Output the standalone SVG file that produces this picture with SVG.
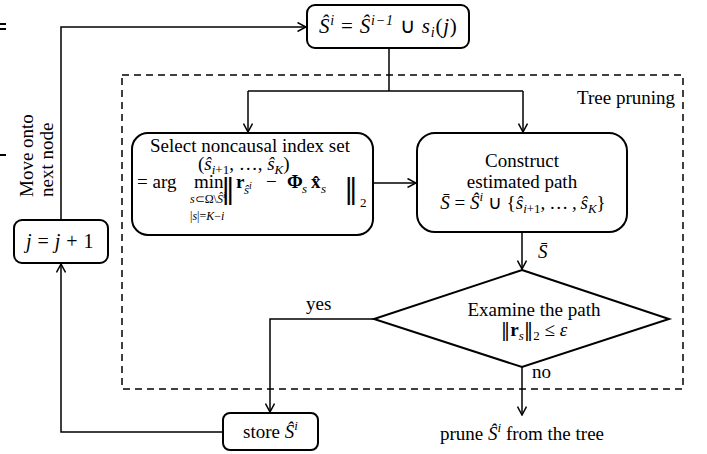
<svg xmlns="http://www.w3.org/2000/svg" width="707" height="454" viewBox="0 0 707 454">
<defs>
<marker id="arr" viewBox="0 0 10 10" refX="9.5" refY="5" markerWidth="10" markerHeight="10" markerUnits="userSpaceOnUse" orient="auto">
<path d="M1,0.5 L9.5,5 L1,9.5" fill="none" stroke="#000" stroke-width="1.5"/>
</marker>
<style>
.node{fill:#fff;stroke:#000;stroke-width:2}
.ln{fill:none;stroke:#000;stroke-width:1.5}
.dash{fill:none;stroke:#000;stroke-width:1.5;stroke-dasharray:7,5}
text{font-family:"Liberation Serif","Times New Roman",serif;font-size:19px;fill:#000}
.m{font-style:italic}
.b{font-weight:bold;font-style:normal}
.s{font-size:13px}
.t{font-size:12px}
.c{text-anchor:middle}
.nb{font-family:"DejaVu Serif","DejaVu Sans",serif;font-style:normal;font-weight:normal}
</style>
</defs>
<rect x="0" y="23" width="6" height="2" fill="#000"/>
<rect x="0" y="28" width="6" height="2" fill="#000"/>
<rect x="0" y="154" width="6" height="2" fill="#000"/>
<rect id="tree-pruning" class="dash" x="122" y="75" width="561" height="314"/>
<text x="675" y="104" text-anchor="end">Tree pruning</text>
<g id="connectors">
<path class="ln" d="M61,220 L61,27 L306,27" marker-end="url(#arr)"/>
<path class="ln" d="M389,48 L389,91"/>
<path class="ln" d="M248,91 L523,91"/>
<path class="ln" d="M248,91 L248,132" marker-end="url(#arr)"/>
<path class="ln" d="M523,91 L523,132" marker-end="url(#arr)"/>
<path class="ln" d="M373,183 L416,183" marker-end="url(#arr)"/>
<path class="ln" d="M522,232 L522,269" marker-end="url(#arr)"/>
<path class="ln" d="M374,319 L270,319 L270,412" marker-end="url(#arr)"/>
<path class="ln" d="M522,367 L522,415" marker-end="url(#arr)"/>
<path class="ln" d="M222,432 L61,432 L61,264" marker-end="url(#arr)"/>
<text x="538" y="258" class="m">S&#x0304;</text>
<text x="306" y="310">yes</text>
<text x="532" y="378">no</text>
<text transform="translate(33,197) rotate(-90)">Move onto</text>
<text transform="translate(53,197) rotate(-90)">next node</text>
</g>
<g id="update">
<rect class="node" x="307" y="5" width="162" height="43" rx="8"/>
<text x="319" y="33" class="m" style="font-size:21px;letter-spacing:0.8px">Ŝ<tspan style="font-size:14px" dy="-8">i</tspan><tspan dy="8" style="font-style:normal"> = </tspan>Ŝ<tspan style="font-size:14px" dy="-8">i−1</tspan><tspan dy="8" style="font-style:normal"> ∪ </tspan>s<tspan style="font-size:14px" dy="4">i</tspan><tspan dy="-4" style="font-style:normal">(</tspan>j<tspan style="font-style:normal">)</tspan></text>
</g>
<g id="increment">
<rect class="node" x="14" y="220" width="94" height="43" rx="8"/>
<text x="60" y="248" class="m c" style="font-size:20px;letter-spacing:0.5px">j<tspan style="font-style:normal"> = </tspan>j<tspan style="font-style:normal"> + 1</tspan></text>
</g>
<g id="select">
<rect class="node" x="132" y="133" width="241" height="102" rx="16"/>
<text x="250" y="152" class="c">Select noncausal index set</text>
<text><tspan x="198" y="170">(</tspan><tspan class="m">ŝ</tspan><tspan class="m s" dy="4">i</tspan><tspan class="s">+1</tspan><tspan dy="-4">, …, </tspan><tspan class="m">ŝ</tspan><tspan class="m s" dy="4">K</tspan><tspan dy="-4">)</tspan><tspan x="137" y="188">= arg</tspan><tspan x="194" y="188">min</tspan><tspan class="t m" x="190" y="203">s</tspan><tspan class="t">⊂Ω\</tspan><tspan class="t m">Ŝ</tspan><tspan class="m" style="font-size:9px" dy="-5">i</tspan><tspan class="t" x="190" y="220">|</tspan><tspan class="t m">s</tspan><tspan class="t">|=</tspan><tspan class="t m">K</tspan><tspan class="t">−</tspan><tspan class="t m">i</tspan><tspan class="nb" x="221" y="198" style="font-size:28px">‖</tspan><tspan class="b" x="236" y="188">r</tspan><tspan class="s m" x="244" y="194">ŝ</tspan><tspan class="m" style="font-size:10px" dy="-5">i</tspan><tspan x="266" y="188">−</tspan><tspan class="b" x="287" y="188">Φ</tspan><tspan class="s m" x="302" y="193">s</tspan><tspan class="b" x="311" y="188">x&#x0302;</tspan><tspan class="s m" x="321" y="193">s</tspan><tspan class="nb" x="344" y="198" style="font-size:28px">‖</tspan><tspan class="s" x="360" y="207">2</tspan></text>
</g>
<g id="construct">
<rect class="node" x="417" y="133" width="210" height="99" rx="18"/>
<text x="522" y="167" class="c">Construct</text>
<text x="522" y="188" class="c">estimated path</text>
<text x="523" y="209" class="c"><tspan class="m">S&#x0304;</tspan> = <tspan class="m">Ŝ</tspan><tspan class="m s" dy="-8">i</tspan><tspan dy="8"> ∪ {</tspan><tspan class="m">ŝ</tspan><tspan class="m s" dy="4">i</tspan><tspan class="s">+1</tspan><tspan dy="-4">,&#x2009;…&#x2009;,&#x2009;</tspan><tspan class="m">ŝ</tspan><tspan class="m s" dy="4">K</tspan><tspan dy="-4">}</tspan></text>
</g>
<g id="examine">
<polygon class="node" points="522,270 669,319 522,367 374,319"/>
<text x="534" y="316" class="c">Examine the path</text>
<text x="534" y="336" class="c"><tspan class="nb">‖</tspan><tspan class="b">r</tspan><tspan class="m s" dy="4">s</tspan><tspan class="nb" dy="-4">‖</tspan><tspan class="s" dy="4">2</tspan><tspan dy="-4"> ≤ </tspan><tspan class="m">ε</tspan></text>
</g>
<g id="store">
<rect class="node" x="223" y="413" width="95" height="37" rx="7"/>
<text x="243" y="438">store <tspan class="m">Ŝ</tspan><tspan class="m s" dy="-8">i</tspan></text>
</g>
<g id="prune">
<text x="440" y="440">prune <tspan class="m">Ŝ</tspan><tspan class="m s" dy="-8">i</tspan><tspan dy="8"> from the tree</tspan></text>
</g>
</svg>
